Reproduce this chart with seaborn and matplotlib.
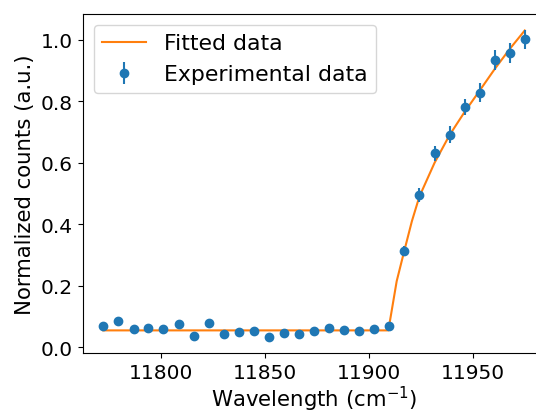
import matplotlib
matplotlib.use("Agg")
import matplotlib.pyplot as plt
import seaborn as sns
import numpy as np

# Experimental data
exp_x = [11772.3, 11779.5, 11786.8, 11794.0, 11801.2, 11808.5, 11815.7, 11822.9,
         11830.1, 11837.4, 11844.6, 11851.8, 11859.1, 11866.3, 11873.5, 11880.8,
         11888.0, 11895.2, 11902.4, 11909.7, 11916.9, 11924.1, 11931.4, 11938.6,
         11945.8, 11953.1, 11960.3, 11967.5, 11974.7]
exp_y = [0.070, 0.087, 0.060, 0.062, 0.060, 0.076, 0.038, 0.079, 0.043, 0.051,
         0.053, 0.034, 0.046, 0.044, 0.053, 0.063, 0.056, 0.052, 0.059, 0.068,
         0.314, 0.496, 0.631, 0.691, 0.781, 0.828, 0.935, 0.957, 1.001]
exp_err = [0.008, 0.008, 0.008, 0.008, 0.008, 0.008, 0.007, 0.008, 0.007, 0.007,
           0.007, 0.006, 0.007, 0.007, 0.007, 0.008, 0.007, 0.007, 0.008, 0.008,
           0.016, 0.022, 0.024, 0.028, 0.027, 0.030, 0.032, 0.032, 0.031]

# Fitted curve
fit_x = [11772.3, 11909.2, 11913.2, 11916.9, 11920.5, 11924.1, 11931.4, 11938.6,
         11945.8, 11953.1, 11960.3, 11967.5, 11974.7]
fit_y = [0.055, 0.055, 0.215, 0.315, 0.410, 0.490, 0.600, 0.690, 0.765, 0.835,
         0.905, 0.970, 1.030]

plt.rcParams['font.size'] = 14.5
plt.rcParams['font.family'] = ['DejaVu Sans']

fig = plt.figure(figsize=(5.36, 4.14), dpi=100)
ax = fig.add_axes([0.1543, 0.1442, 0.8647, 0.8203])

sns.lineplot(x=fit_x, y=fit_y, ax=ax, color='#ff7f0e', label='Fitted data',
             sort=False, estimator=None, linewidth=1.5)
ax.errorbar(exp_x, exp_y, yerr=exp_err, fmt='o', color='#1f77b4',
            markersize=6, label='Experimental data')

ax.set_xlim(11762.4, 11985)
ax.set_ylim(-0.0195, 1.0846)
ax.set_xticks([11800, 11850, 11900, 11950])
ax.set_yticks([0.0, 0.2, 0.4, 0.6, 0.8, 1.0])
ax.tick_params(labelsize=14.5)
ax.set_xlabel('Wavelength (cm$^{-1}$)', fontsize=15.3, labelpad=1.5)
ax.set_ylabel('Normalized counts (a.u.)', fontsize=15.3)
ax.spines['right'].set_visible(False)
ax.legend(loc='upper left', fontsize=15.8)

fig.savefig('out.png', dpi=100)
